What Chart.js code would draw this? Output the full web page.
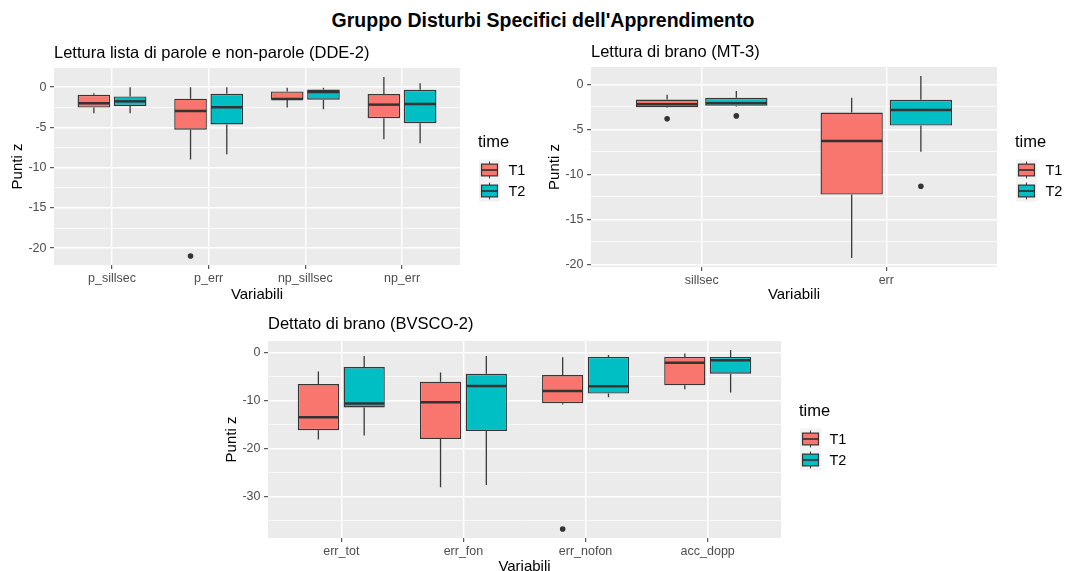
<!DOCTYPE html>
<html>
<head>
<meta charset="utf-8">
<script src="https://cdn.jsdelivr.net/npm/chart.js@4/dist/chart.umd.min.js"></script>
<style>
  html, body { margin: 0; padding: 0; background: #ffffff; width: 1065px; height: 571px; overflow: hidden; }
  #mainTitle { position: absolute; left: 0; top: 9px; width: 1086px; text-align: center;
    font: bold 19.5px/22px "Liberation Sans", Arial, Helvetica, sans-serif; color: #000; }
  canvas { position: absolute; }
</style>
</head>
<body>
<div id="mainTitle">Gruppo Disturbi Specifici dell'Apprendimento</div>
<canvas id="dde" width="530" height="275" style="left:0px; top:35px;"></canvas>
<canvas id="mt" width="528" height="275" style="left:537px; top:35px;"></canvas>
<canvas id="bv" width="700" height="290" style="left:214px; top:305px;"></canvas>
<script>
// ---- Data: each row is [lower whisker, Q1, median, Q3, upper whisker] ----
const timeLabels = ['T1', 'T2'];

// Lettura lista di parole e non-parole (DDE-2)
const ddeCategories = ['p_sillsec', 'p_err', 'np_sillsec', 'np_err'];
const ddeT1 = [[-3.24, -2.54, -2.0, -0.94, -0.74], [-8.98, -5.29, -2.95, -1.43, 0.0],
               [-2.54, -1.56, -1.48, -0.53, -0.08], [-6.48, -3.85, -2.17, -0.86, 1.27]];
const ddeT2 = [[-3.24, -2.34, -1.76, -1.15, 0.0], [-8.32, -4.63, -2.5, -0.82, 0.0],
               [-2.75, -1.56, -0.61, -0.29, -0.08], [-6.97, -4.47, -2.09, -0.33, 0.49]];
const ddeT1Outliers = [[], [-20.98], [], []];
const ddeT2Outliers = [[], [], [], []];
const ddeYTicks = [0, -5, -10, -15, -20];

// Lettura di brano (MT-3)
const mtCategories = ['sillsec', 'err'];
const mtT1 = [[-2.6, -2.53, -2.2, -1.68, -1.15], [-19.3, -12.25, -6.3, -3.13, -1.49]];
const mtT2 = [[-2.45, -2.38, -2.08, -1.49, -0.74], [-7.49, -4.58, -2.83, -1.71, 0.93]];
const mtT1Outliers = [[-3.83], []];
const mtT2Outliers = [[-3.5], [-11.32]];
const mtYTicks = [0, -5, -10, -15, -20];

// Dettato di brano (BVSCO-2)
const bvCategories = ['err_tot', 'err_fon', 'err_nofon', 'acc_dopp'];
const bvT1 = [[-18.1, -16.2, -13.5, -6.55, -3.93], [-28.1, -18.0, -10.34, -6.07, -4.14],
              [-10.83, -10.55, -8.0, -4.69, -0.97], [-7.66, -6.83, -2.14, -0.9, -0.2]];
const bvT2 = [[-17.3, -11.45, -10.6, -3.03, -0.69], [-27.6, -16.34, -6.97, -4.41, -0.69],
              [-9.3, -8.55, -7.03, -0.9, -0.48], [-8.34, -4.41, -1.59, -0.9, 0.55]];
const bvT1Outliers = [[], [], [-36.8], []];
const bvT2Outliers = [[], [], [], []];
const bvYTicks = [0, -10, -20, -30];

// ---- Styling ----
const FONT = '"Liberation Sans", Arial, Helvetica, sans-serif';
const timeColors = ['#F8766D', '#00BFC4'];
const INK = '#333333';
Chart.defaults.font.family = FONT;
Chart.defaults.color = '#4D4D4D';

// y range: data extent expanded by 5% on each side
function expandedRange(series, outliers) {
  const vals = [];
  series.forEach(s => s.forEach(r => vals.push(r[0], r[4])));
  outliers.forEach(o => o.forEach(list => vals.push(...list)));
  const lo = Math.min(...vals), hi = Math.max(...vals), pad = (hi - lo) * 0.05;
  return [lo - pad, hi + pad];
}

// major ticks plus minor ticks halfway between them
function yTickList(majors, min, max) {
  const step = Math.abs(majors[0] - majors[1]);
  const out = [];
  const start = Math.min(...majors) - step, end = Math.max(...majors) + step;
  for (let v = start; v <= end + 1e-9; v += step / 2) {
    if (v >= min && v <= max) out.push({ value: v, minor: !majors.includes(v) });
  }
  return out;
}

// Panel background, whiskers, medians and outliers of the box plots
const boxplotPlugin = {
  id: 'boxplot',
  beforeDraw(chart) {
    const { ctx, chartArea: a } = chart;
    ctx.save();
    ctx.fillStyle = '#EBEBEB';
    ctx.fillRect(a.left, a.top, a.right - a.left, a.bottom - a.top);
    ctx.restore();
  },
  beforeDatasetsDraw(chart) {
    const { ctx } = chart;
    const y = chart.scales.y;
    ctx.save();
    ctx.strokeStyle = '#3a3a3a';
    ctx.lineWidth = 1.3;
    chart.data.datasets.forEach((ds, i) => {
      const meta = chart.getDatasetMeta(i);
      ds.stats.forEach((r, j) => {
        const bar = meta.data[j];
        ctx.beginPath();
        ctx.moveTo(bar.x, y.getPixelForValue(r[0]));
        ctx.lineTo(bar.x, y.getPixelForValue(r[1]));
        ctx.moveTo(bar.x, y.getPixelForValue(r[3]));
        ctx.lineTo(bar.x, y.getPixelForValue(r[4]));
        ctx.stroke();
      });
    });
    ctx.restore();
  },
  afterDatasetsDraw(chart) {
    const { ctx } = chart;
    const y = chart.scales.y;
    ctx.save();
    chart.data.datasets.forEach((ds, i) => {
      const meta = chart.getDatasetMeta(i);
      ds.stats.forEach((r, j) => {
        const bar = meta.data[j];
        const half = bar.width / 2 - 0.5;
        const py = y.getPixelForValue(r[2]);
        ctx.strokeStyle = INK;
        ctx.lineWidth = 2.5;
        ctx.beginPath();
        ctx.moveTo(bar.x - half, py);
        ctx.lineTo(bar.x + half, py);
        ctx.stroke();
        ctx.fillStyle = INK;
        ds.outliers[j].forEach(v => {
          ctx.beginPath();
          ctx.arc(bar.x, y.getPixelForValue(v), 2.8, 0, Math.PI * 2);
          ctx.fill();
        });
      });
    });
    ctx.restore();
  },
  afterDraw(chart, args, opts) {
    // legend "time" with box-plot keys
    const { ctx, chartArea: a } = chart;
    const x0 = a.right + opts.dx;
    const cy = (a.top + a.bottom) / 2 + opts.dy;
    const key = 21;
    ctx.save();
    ctx.fillStyle = '#000';
    ctx.textAlign = 'left';
    ctx.textBaseline = 'middle';
    ctx.font = '16.5px ' + FONT;
    ctx.fillText('time', x0 - 1, cy - 38);
    chart.data.datasets.forEach((ds, i) => {
      const top = cy - key + i * key;
      const mid = x0 + key / 2;
      ctx.fillStyle = '#F2F2F2';
      ctx.fillRect(x0, top, key, key);
      ctx.strokeStyle = INK;
      ctx.lineWidth = 1;
      ctx.beginPath();
      ctx.moveTo(mid, top + key * 0.1);
      ctx.lineTo(mid, top + key * 0.9);
      ctx.stroke();
      ctx.fillStyle = ds.backgroundColor;
      const bx = x0 + key * 0.12, bw = key * 0.76, by = top + key * 0.22, bh = key * 0.56;
      ctx.fillRect(bx, by, bw, bh);
      ctx.lineWidth = 1.2;
      ctx.strokeRect(bx, by, bw, bh);
      ctx.lineWidth = 1.7;
      ctx.beginPath();
      ctx.moveTo(bx, top + key / 2);
      ctx.lineTo(bx + bw, top + key / 2);
      ctx.stroke();
      ctx.fillStyle = '#000';
      ctx.font = '14.5px ' + FONT;
      ctx.fillText(ds.label, x0 + key + 8.5, top + key / 2 + 0.5);
    });
    ctx.restore();
  }
};

function makePanel(id, cfg) {
  const [ymin, ymax] = expandedRange(cfg.series, cfg.outliers);
  const cats = cfg.categories;
  new Chart(document.getElementById(id), {
    type: 'bar',
    data: {
      datasets: cfg.series.map((s, i) => ({
        label: timeLabels[i],
        data: s.map((r, j) => ({ x: j + 1, y: [r[1], r[3]] })),
        stats: s,
        outliers: cfg.outliers[i],
        backgroundColor: timeColors[i],
        borderColor: '#363636',
        borderWidth: 1.4,
        borderSkipped: false,
        categoryPercentage: 0.75,
        barPercentage: 0.9
      }))
    },
    options: {
      responsive: false,
      animation: false,
      events: [],
      layout: { padding: { left: 0, top: 0, right: cfg.padRight, bottom: 0 } },
      plugins: {
        legend: { display: false },
        tooltip: { enabled: false },
        title: {
          display: true, text: cfg.title, align: 'start', fullSize: false,
          color: '#000', font: { size: 16.5, weight: 'normal' },
          padding: { top: cfg.titleTop, bottom: cfg.titleBottom }
        },
        boxplot: { dx: 19, dy: cfg.legendDy }
      },
      scales: {
        x: {
          type: 'linear',
          min: 0.4,
          max: cats.length + 0.6,
          offset: false,
          afterBuildTicks: sc => { sc.ticks = cats.map((c, i) => ({ value: i + 1 })); },
          afterFit: sc => { sc.height = cfg.xAxisHeight; },
          ticks: {
            callback: (v, i) => cats[i],
            color: '#4D4D4D', font: { size: 12.5 }, padding: 2,
            autoSkip: false, maxRotation: 0
          },
          grid: { offset: false, color: '#FFFFFF', lineWidth: 1.4, tickLength: 4, tickColor: INK, tickWidth: 1 },
          border: { display: false },
          title: { display: true, text: 'Variabili', color: '#000', font: { size: 15 },
                   padding: { top: 0, bottom: cfg.xTitleBottom } }
        },
        y: {
          type: 'linear',
          min: ymin,
          max: ymax,
          beginAtZero: false,
          afterBuildTicks: sc => { sc.ticks = yTickList(cfg.yTicks, ymin, ymax); },
          afterFit: sc => { sc.width = 54; },
          ticks: {
            callback: (v, i, t) => (t[i].minor ? '' : String(v)),
            color: '#4D4D4D', font: { size: 12.5 }, padding: 3.5, autoSkip: false
          },
          grid: {
            color: '#FFFFFF',
            lineWidth: c => (c.tick && c.tick.minor ? 0.7 : 1.4),
            tickColor: c => (c.tick && c.tick.minor ? 'rgba(0,0,0,0)' : INK),
            tickLength: 4, tickWidth: 1
          },
          border: { display: false },
          title: { display: true, text: 'Punti z', color: '#000', font: { size: 15 },
                   padding: { top: 9.3, bottom: 0 } }
        }
      }
    },
    plugins: [boxplotPlugin]
  });
}

makePanel('dde', {
  title: 'Lettura lista di parole e non-parole (DDE-2)',
  categories: ddeCategories, series: [ddeT1, ddeT2], outliers: [ddeT1Outliers, ddeT2Outliers],
  yTicks: ddeYTicks, padRight: 70, titleTop: 8.1, titleBottom: 5.1,
  xAxisHeight: 45, xTitleBottom: 6.3, legendDy: 14
});
makePanel('mt', {
  title: 'Lettura di brano (MT-3)',
  categories: mtCategories, series: [mtT1, mtT2], outliers: [mtT1Outliers, mtT2Outliers],
  yTicks: mtYTicks, padRight: 68, titleTop: 7.1, titleBottom: 5.1,
  xAxisHeight: 43, xTitleBottom: 6.3, legendDy: 13.5
});
makePanel('bv', {
  title: 'Dettato di brano (BVSCO-2)',
  categories: bvCategories, series: [bvT1, bvT2], outliers: [bvT1Outliers, bvT2Outliers],
  yTicks: bvYTicks, padRight: 133, titleTop: 9.1, titleBottom: 7.1,
  xAxisHeight: 57, xTitleBottom: 19.3, legendDy: 10
});
</script>
</body>
</html>
